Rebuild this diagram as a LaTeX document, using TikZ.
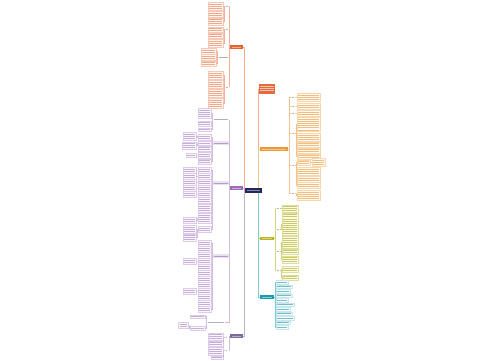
\documentclass[tikz,border=0pt]{standalone}
\usepackage{tikz}
\definecolor{navy}{HTML}{23275C}
\definecolor{ora}{HTML}{E4622D}
\definecolor{amb}{HTML}{EC9A35}
\definecolor{pur}{HTML}{9A6CBA}
\definecolor{dpur}{HTML}{7C6AA0}
\definecolor{olv}{HTML}{B9B320}
\definecolor{tea}{HTML}{1C9CB3}
\definecolor{redbox}{HTML}{E66A3C}

\begin{document}
\begin{tikzpicture}[x=0.5mm,y=-0.5mm]
  \tikzset{every node/.style = {inner sep=0pt, outer sep=0pt}}
  \tikzset{wid/.style = {minimum width=#1*0.5mm}}
  % rows of (unreadable) text inside a box
  \tikzset{txt/.style 2 args = {minimum height={#1*1.05mm+0.7mm},
      path picture={\foreach \k in {1,...,#1}
        \draw[#2,line width=0.45pt] ([xshift=0.6mm,yshift={-(0.35+(\k-0.5)*1.05)*1mm}]path picture bounding box.north west)
          -- ([xshift=-0.6mm,yshift={-(0.35+(\k-0.5)*1.05)*1mm}]path picture bounding box.north east);}}}
  \tikzset{hub/.style = {fill=#1, minimum height=1.9mm,
      path picture={\draw[#1!55!white,line width=0.3pt] ([xshift=0.8mm]path picture bounding box.west)
          -- ([xshift=-0.8mm]path picture bounding box.east);}}}
  \tikzset{lbl/.style = {txt={1}{black!30}}}
  \tikzset{lblC/.style = {fill=pur!20, txt={1}{pur!70}}}
  \tikzset{lfA/.style = {draw=ora!35, fill=ora!5, txt={#1}{ora!55}}}
  \tikzset{lfB/.style = {draw=amb!40, fill=amb!6, txt={#1}{amb!65}}}
  \tikzset{lfC/.style = {draw=pur!35, fill=pur!5, txt={#1}{pur!55}}}
  \tikzset{lfE/.style = {draw=olv!45, fill=olv!7, txt={#1}{olv!70}}}
  \tikzset{lfF/.style = {draw=tea!25, txt={#1}{tea!65}}}
  \tikzset{eA/.style = {draw=ora!50, line width=0.5pt}}
  \tikzset{eB/.style = {draw=amb!60, line width=0.5pt}}
  \tikzset{eC/.style = {draw=pur!45, line width=0.5pt}}
  \tikzset{eE/.style = {draw=olv!60, line width=0.5pt}}
  \tikzset{eF/.style = {draw=tea!55, line width=0.5pt}}

  \useasboundingbox (0,0) rectangle (500,360);

  % centre and main branches
  \node[hub=navy, wid=17, minimum height=2.5mm] (root) at (253.5,190.5) {};
  \node[hub=ora, wid=13] (A) at (236.5,47) {};
  \node[hub=pur, wid=13] (C) at (236.5,188) {};
  \node[hub=dpur, wid=13] (D) at (236.5,336) {};
  \node[fill=redbox, wid=16, txt={3}{redbox!40!white}, minimum height=5mm] (R) at (267,89) {};
  \node[hub=amb, wid=28] (B) at (274,149) {};
  \node[hub=olv, wid=14] (E) at (267,238.5) {};
  \node[hub=tea, wid=14] (F) at (267,297) {};

  % sub labels
  \foreach \n/\x/\y/\w in {a1/227/6/4, a2/227/29.5/4, a3/223.5/57/11, a4/227/87/4,
      c1/221/119.5/16, c6/216/322/18, d1/226.5/337/4, d2/226.5/350/4,
      b1/293/97/4, b2/293/106/4, b3/293/113/4, b4/293/133/4, b5/293/165/4, b6/293/193/4,
      e1/278/208.5/4, e2/278/229/4, e3/278/251/4, e4/278/270/4}
    \node[lbl, wid=\w] (\n) at (\x,\y) {};
  \foreach \n/\y in {c2/143, c3/183, c5/256}
    \node[lblC, wid=16] (\n) at (221,\y) {};

  % leaves, left side
  \foreach \n/\x/\y/\nr/\w in {a11/215.5/6/3/15, a12/215.5/14/2/15, a13/215.5/21.5/3/15,
      a21/215.5/29.5/2/15, a22/215.5/35.5/2/15, a23/215.5/43/3/15,
      a31/208.5/51/2/15, a32/208.5/57/2/15, a33/208.5/63.5/2/15,
      a41/215.5/75/3/15, a42/215.5/84/3/15, a43/215.5/93/3/15, a44/215.5/103.5/4/15}
    \node[lfA=\nr, wid=\w] (\n) at (\x,\y) {};
  \foreach \n/\x/\y/\nr/\w in {c11/204.5/113/4/13, c12/204.5/123.5/2/13, c13/204.5/129.5/1/13,
      c21/204.5/137/2/13, c22/204.5/143/1/13, c23/204.5/148.5/2/13, c24/204.5/155/2/13, c25/204.5/161.5/2/13,
      g1/189.5/136/3/13, g2/189/145.5/3/14, g3/191/155/1/10,
      c31/204.5/170/2/13, c32/204.5/176/2/13, c33/204.5/182/2/13, c34/204.5/188/2/13,
      c35/204.5/194/2/13, c36/204.5/200/2/13, c37/204.5/208/3/13, c38/204.5/218.5/4/13, c39/204.5/229/2/13,
      h1/189.5/170/2/13, h2/189.5/176/2/13, h3/189.5/182/2/13, h4/189.5/188/2/13, h5/189.5/194/2/13,
      h8/189.5/220/2/13, h9/189.5/229/3/13, h10/189.5/237.5/3/13,
      c51/204.5/243/2/13, c52/204.5/249/2/13, c53/204.5/255/2/13, c54/204.5/261/2/13,
      c55/204.5/267/2/13, c56/204.5/273/2/13, c57/204.5/279/2/13, c58/204.5/285/2/13,
      c59/204.5/291/2/13, c510/204.5/297/2/13, c511/204.5/303/2/13, c512/204.5/309/2/13,
      k4/189.5/261/2/13, k9/189.5/291/2/13,
      c61/197.5/316.5/1/15, c62/197.5/328/1/15, c63/183.5/325/2/10,
      d11/215.5/336.5/3/15, d12/215.5/343.5/2/15, d21/215.5/351/3/15, d22/217/357.5/1/12}
    \node[lfC=\nr, wid=\w] (\n) at (\x,\y) {};

  % leaves, right side
  \foreach \n/\x/\y/\nr/\w in {b11/308.5/97/3/23, b21/308.5/106/2/23, b31/308.5/113/2/23,
      b41/308.5/124.5/6/23, b42/308.5/137/3/23, b43/308.5/144.5/2/23, b44/308.5/150.5/2/23, b45/308.5/156.5/2/23,
      b51/303.5/162.5/2/13, bx/318.5/162/3/13, b52/308.5/171/3/23, b53/308.5/179/2/23, b54/308.5/185/2/23,
      b61/308.5/195/4/23}
    \node[lfB=\nr, wid=\w] (\n) at (\x,\y) {};
  \foreach \n/\y/\nr in {e11/208.5/3, e21/224/10, e31/242/5, e32/251.5/2, e33/259.5/3, e41/269/2, e42/277.5/2}
    \node[lfE=\nr, wid=16] (\n) at (290,\y) {};
  \foreach \n/\x/\y/\w in {f1/282/282/12, f2/284/286.5/16, f3/283/291/14, f4/284/295.5/16, f5/282/300/12,
      f6/285/304.5/18, f7/283/309/14, f8/284/313.5/16, f9/285/318/18, f10/283/322.5/14, f11/282/327/12}
    \node[lfF=1, wid=\w] (\n) at (\x,\y) {};

  % connectors
  \foreach \to/\c in {A/ora, C/pur, D/dpur}
    \draw[\c!50, line width=0.5pt] (root.west) -- ++(-1,0) |- (\to.east);
  \foreach \to/\c/\a in {R/redbox/north, B/amb/north, E/olv/south, F/tea/south}
    \draw[\c!55, line width=0.5pt] ([xshift=-2mm]root.\a\space east) |- (\to.west);

  \foreach \from/\to in {A/a1, A/a2, A/a3, A/a4, a1/a11, a1/a12, a1/a13, a2/a21, a2/a22, a2/a23,
      a3/a31, a3/a32, a3/a33, a4/a41, a4/a42, a4/a43, a4/a44}
    \draw[eA] (\from.west) -- ++(-1,0) |- (\to.east);
  \foreach \from/\to in {C/c1, C/c2, C/c3, C/c5, C/c6, c1/c11, c1/c12, c1/c13,
      c2/c21, c2/c22, c2/c23, c2/c24, c2/c25, c21/g1, c22/g2, c24/g3,
      c3/c31, c3/c32, c3/c33, c3/c34, c3/c35, c3/c36, c3/c37, c3/c38, c3/c39,
      c31/h1, c32/h2, c33/h3, c34/h4, c35/h5, c38/h8, c39/h9, c39/h10,
      c5/c51, c5/c52, c5/c53, c5/c54, c5/c55, c5/c56, c5/c57, c5/c58, c5/c59, c5/c510, c5/c511, c5/c512,
      c54/k4, c59/k9, c6/c61, c6/c62, c62/c63,
      D/d1, D/d2, d1/d11, d1/d12, d2/d21, d2/d22}
    \draw[eC] (\from.west) -- ++(-1,0) |- (\to.east);
  \foreach \from/\to in {B/b1, B/b2, B/b3, B/b4, B/b5, B/b6, b1/b11, b2/b21, b3/b31,
      b4/b41, b4/b42, b4/b43, b4/b44, b4/b45, b5/b51, b51/bx, b5/b52, b5/b53, b5/b54, b6/b61}
    \draw[eB] (\from.east) -- ++(1,0) |- (\to.west);
  \foreach \from/\to in {E/e1, E/e2, E/e3, E/e4, e1/e11, e2/e21, e3/e31, e3/e32, e3/e33, e4/e41, e4/e42}
    \draw[eE] (\from.east) -- ++(1,0) |- (\to.west);
  \foreach \to in {f1, f2, f3, f4, f5, f6, f7, f8, f9, f10, f11}
    \draw[eF] (F.east) -- ++(1,0) |- (\to.west);
\end{tikzpicture}
\end{document}
